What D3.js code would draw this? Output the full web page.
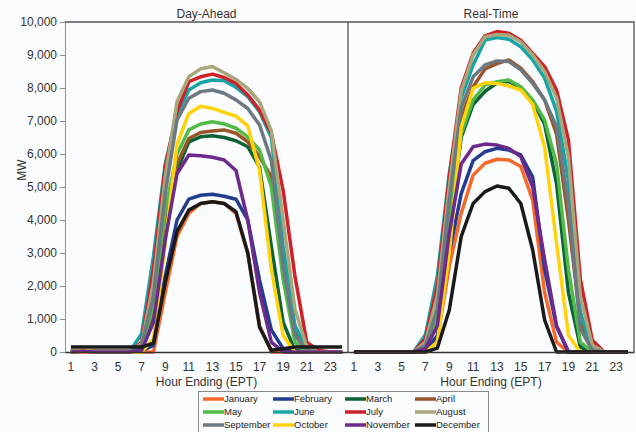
<!DOCTYPE html>
<html>
<head>
<script src="https://d3js.org/d3.v7.min.js"></script>
<style>
  body { margin: 0; background: #fbfcfd; font-family: "Liberation Sans", Arial, sans-serif; }
  .tick text { font-size: 12px; fill: #333; }
  .y.axis .domain, .y.axis line { stroke: #8a8f96; }
  .x.axis .domain { stroke: #333; stroke-width: 1.5px; }
  .x.axis line { stroke: none; }
  .legend text { font-size: 9.5px; fill: #222; }
</style>
</head>
<body>
<svg id="chart" width="636" height="432"></svg>
<script>
const months = ["January", "February", "March", "April", "May", "June",
  "July", "August", "September", "October", "November", "December"];
const monthColors = ["#f7692a", "#233c8f", "#0a6235", "#99552a", "#52bb47", "#17a4a6",
  "#cf2129", "#a8a77c", "#6c7982", "#ffd20a", "#6b2a8c", "#1a1a1a"];
const hours = d3.range(1, 25);
const yTicks = d3.range(0, 10001, 1000);
const panelTitles = ["Day-Ahead", "Real-Time"];

// MW by hour 1..24, one row per month
const dayAhead = [
  [0,0,0,0,0,0,0,0,1800,3500,4200,4500,4550,4500,4200,3000,800,0,0,0,0,0,0,0],
  [30,30,30,30,30,30,30,200,2300,4000,4630,4750,4780,4720,4630,4000,2180,670,100,0,0,0,0,0],
  [20,20,20,20,20,20,150,1000,3800,5500,6370,6520,6550,6500,6400,6220,5600,3200,900,50,0,0,0,0],
  [20,20,20,20,20,20,200,1300,4000,5700,6470,6650,6700,6730,6630,6370,5920,5300,2500,600,50,0,0,0],
  [20,20,20,20,20,20,200,1400,4300,6000,6730,6910,6980,6910,6780,6520,6120,5000,2200,300,0,0,0,0],
  [20,20,20,20,20,20,550,2900,5700,7200,7940,8160,8240,8220,8020,7740,7280,6500,3200,800,100,0,0,0],
  [20,20,20,20,20,20,300,2500,5600,7300,8190,8340,8420,8320,8140,7790,7330,6630,4900,2300,300,50,0,0],
  [20,20,20,20,20,20,250,2100,5300,7580,8340,8580,8650,8460,8260,7990,7580,6700,4000,1300,150,0,0,0],
  [20,20,20,20,20,20,200,1700,4800,7030,7690,7890,7940,7840,7640,7380,6880,5800,2600,500,50,0,0,0],
  [0,50,0,0,0,0,0,400,3300,6300,7230,7450,7380,7260,7150,6850,5500,2500,500,0,0,0,0,0],
  [0,30,0,0,0,0,50,900,3400,5400,5970,5950,5900,5820,5500,4000,1800,300,0,0,0,0,0,0],
  [150,150,150,150,150,150,150,270,2100,3650,4300,4500,4550,4500,4250,3000,750,50,100,150,150,150,150,150]
];

const realTime = [
  [0,0,0,0,0,0,0,400,2600,4200,5360,5720,5840,5820,5620,4600,1800,300,0,0,0,0,0,0],
  [0,0,0,0,0,0,50,500,3000,4800,5800,6070,6170,6120,5970,5300,2500,770,0,0,0,0,0,0],
  [0,0,0,0,0,0,200,900,3800,6500,7500,7900,8150,8200,8000,7600,6900,5100,1800,150,0,0,0,0],
  [0,0,0,0,0,0,250,1100,4300,7100,8040,8580,8740,8850,8600,8190,7640,6600,4000,900,100,0,0,0],
  [0,0,0,0,0,0,200,1000,4000,6600,7640,8090,8190,8240,8040,7640,7030,5700,2500,300,0,0,0,0],
  [0,0,0,0,0,0,520,2300,5400,7700,8700,9450,9530,9480,9250,8850,8300,7300,5200,1200,100,0,0,0],
  [0,0,0,0,0,0,400,2000,5300,8000,9050,9580,9710,9660,9450,9050,8650,7940,6420,2200,360,0,0,0],
  [0,0,0,0,0,0,300,1700,5000,7900,9000,9550,9620,9600,9400,9000,8500,7700,5900,1700,200,0,0,0],
  [0,0,0,0,0,0,200,1300,4600,7400,8340,8700,8820,8800,8550,8140,7640,6830,4500,700,50,0,0,0],
  [0,0,0,0,0,0,0,300,3000,6800,7990,8160,8140,8060,7940,7500,6200,3300,500,0,0,0,0,0],
  [0,0,0,0,0,0,100,800,3600,5700,6220,6300,6270,6170,5920,5000,2800,800,0,0,0,0,0,0],
  [0,0,0,0,0,0,0,120,1270,3500,4500,4860,5030,4960,4500,3090,970,0,0,0,0,0,0,0]
];

const svg = d3.select("#chart");
svg.append("rect").attr("width", 636).attr("height", 432).attr("fill", "#fbfcfd");

const plotTop = 22, plotBottom = 352;
const panels = [{ x0: 65, x1: 348, data: dayAhead }, { x0: 348, x1: 634, data: realTime }];

const y = d3.scaleLinear().domain([0, 10000]).range([plotBottom, plotTop]);
const color = d3.scaleOrdinal().domain(months).range(monthColors);

// y axis
svg.append("g")
  .attr("class", "y axis")
  .attr("transform", "translate(65,0)")
  .call(d3.axisLeft(y).tickValues(yTicks).tickSize(5).tickFormat(d3.format(",")));

svg.append("text")
  .attr("transform", "translate(26,170) rotate(-90)")
  .attr("text-anchor", "middle")
  .style("font-size", "12px")
  .attr("fill", "#333")
  .text("MW");

panels.forEach((p, pi) => {
  const x = d3.scaleBand().domain(hours).range([p.x0, p.x1]);
  const cx = h => x(h) + x.bandwidth() / 2;

  // frame: top and right edges
  svg.append("path")
    .attr("d", `M${p.x0},${plotTop}H${p.x1}V${plotBottom}`)
    .attr("fill", "none")
    .attr("stroke", "#555")
    .attr("stroke-width", 1.3);

  const line = d3.line().x((d, i) => cx(hours[i])).y(d => y(d));

  svg.append("g").selectAll("path")
    .data(p.data)
    .join("path")
    .attr("d", d => line(d))
    .attr("fill", "none")
    .attr("stroke", (d, i) => color(months[i]))
    .attr("stroke-width", 3.5)
    .attr("stroke-linejoin", "round");

  svg.append("g")
    .attr("class", "x axis")
    .attr("transform", `translate(0,${plotBottom})`)
    .call(d3.axisBottom(x).tickValues(hours.filter(h => h % 2 === 1)).tickSize(0).tickPadding(10));

  svg.append("text")
    .attr("x", (p.x0 + p.x1) / 2)
    .attr("y", 386)
    .attr("text-anchor", "middle")
    .style("font-size", "12px")
    .attr("fill", "#333")
    .text("Hour Ending (EPT)");

  svg.append("text")
    .attr("x", (p.x0 + p.x1) / 2)
    .attr("y", 18)
    .attr("text-anchor", "middle")
    .style("font-size", "12px")
    .attr("fill", "#333")
    .text(panelTitles[pi]);
});

// legend
const legend = svg.append("g").attr("class", "legend");
legend.append("rect")
  .attr("x", 198.5).attr("y", 391.5)
  .attr("width", 290).attr("height", 45)
  .attr("fill", "none").attr("stroke", "#888");

const colX = [203, 273, 345, 415];
const rowY = [399, 412, 425];
const items = legend.selectAll("g.item")
  .data(months)
  .join("g")
  .attr("class", "item")
  .attr("transform", (d, i) => `translate(${colX[i % 4]},${rowY[Math.floor(i / 4)]})`);

items.append("line")
  .attr("x1", 0).attr("x2", 21)
  .attr("stroke", d => color(d))
  .attr("stroke-width", 3.5);

items.append("text")
  .attr("x", 21)
  .attr("dy", "0.35em")
  .text(d => d);
</script>
</body>
</html>
